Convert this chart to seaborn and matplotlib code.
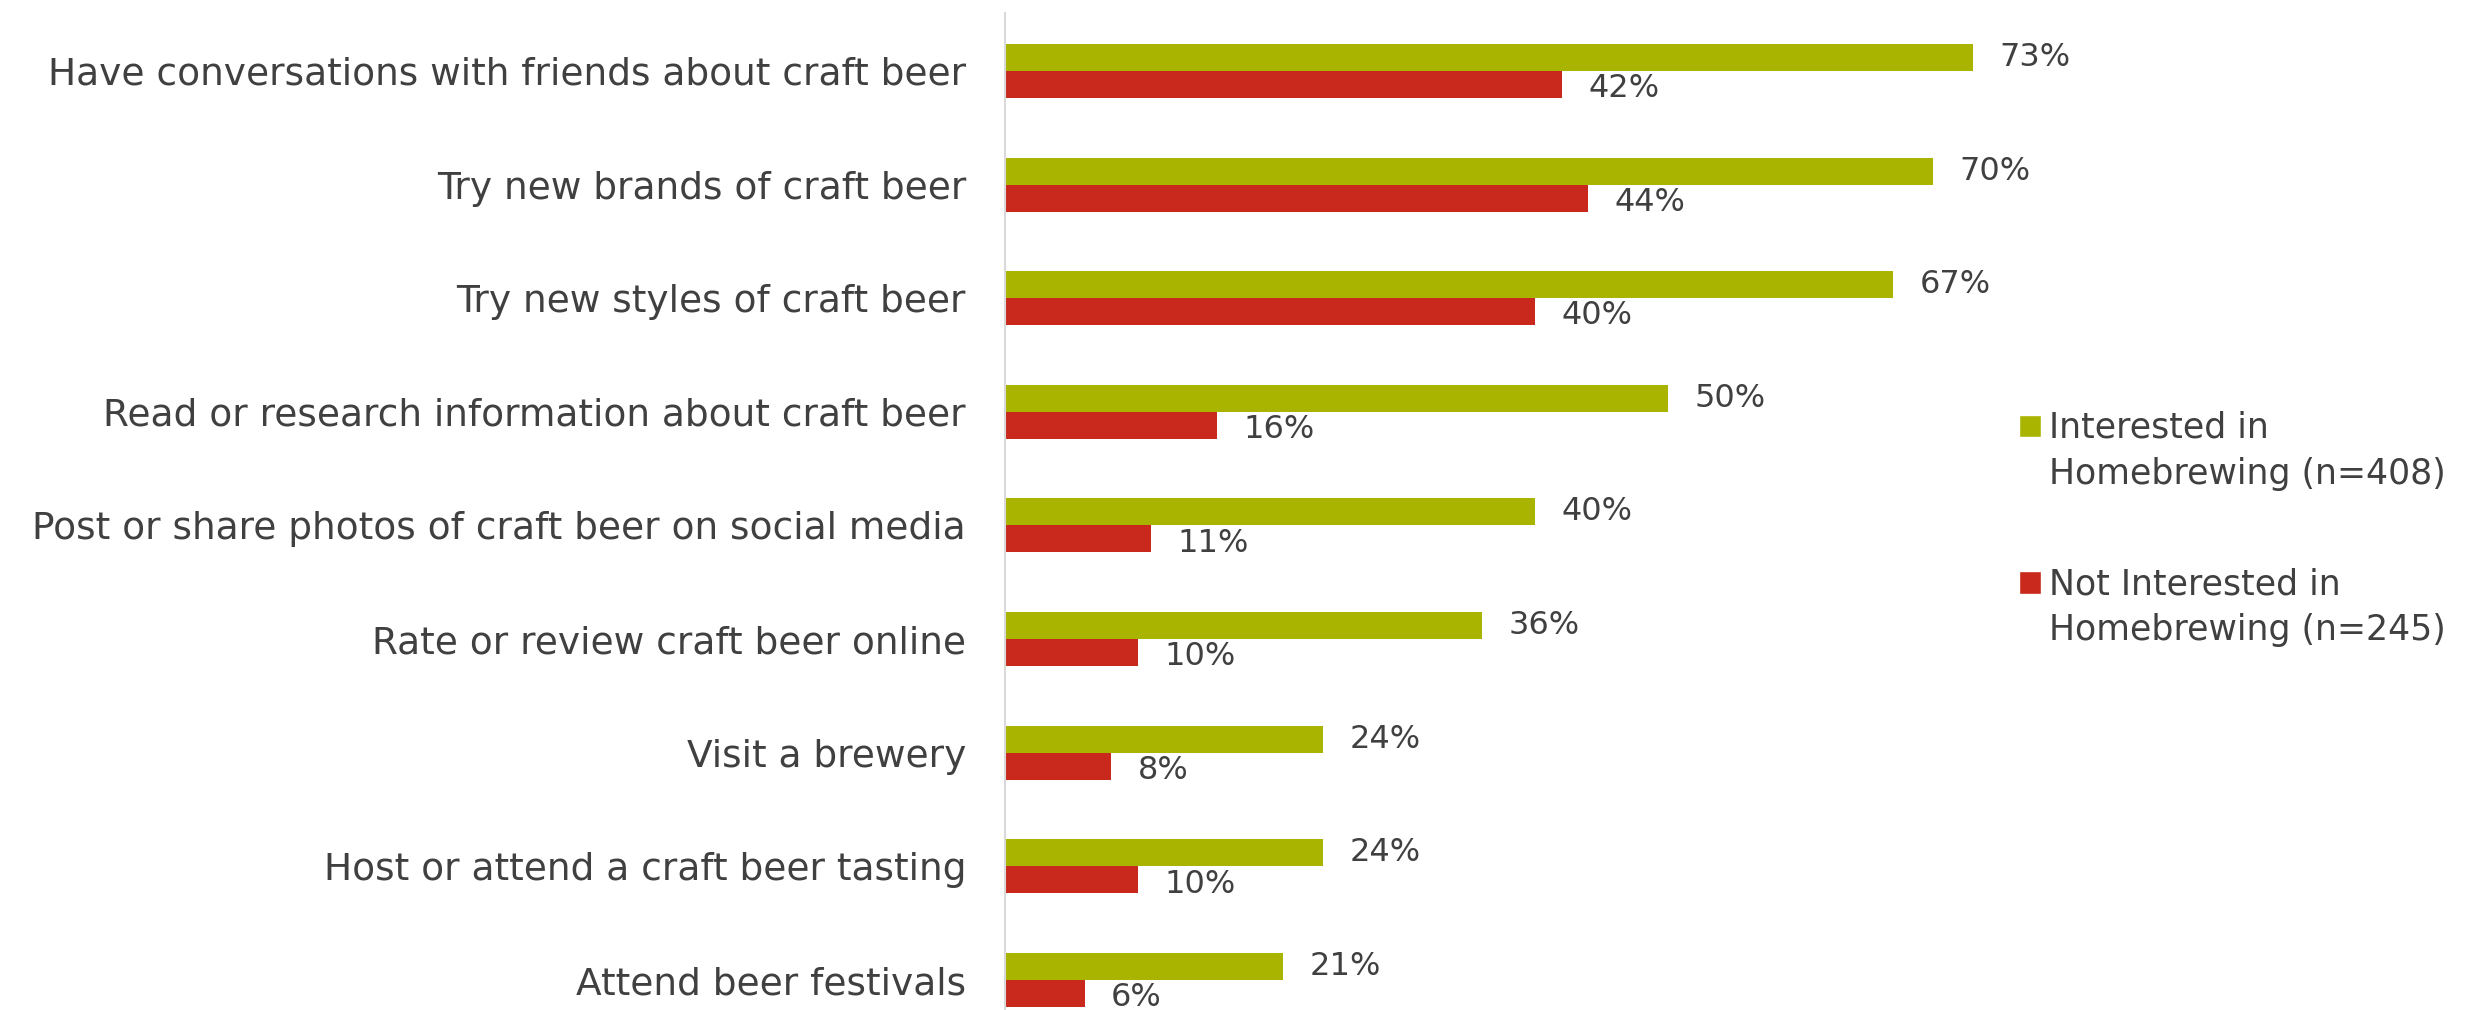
import matplotlib
matplotlib.use("Agg")
import matplotlib.pyplot as plt
import seaborn as sns
import pandas as pd
from matplotlib.patches import Patch, Rectangle
from matplotlib.legend_handler import HandlerPatch

categories = [
    "Have conversations with friends about craft beer",
    "Try new brands of craft beer",
    "Try new styles of craft beer",
    "Read or research information about craft beer",
    "Post or share photos of craft beer on social media",
    "Rate or review craft beer online",
    "Visit a brewery",
    "Host or attend a craft beer tasting",
    "Attend beer festivals",
]
interested = [73, 70, 67, 50, 40, 36, 24, 24, 21]
not_interested = [42, 44, 40, 16, 11, 10, 8, 10, 6]
series_names = ["Interested in\nHomebrewing (n=408)", "Not Interested in\nHomebrewing (n=245)"]
colors = ["#A9B400", "#C9291C"]

rows = []
for c, a, b in zip(categories, interested, not_interested):
    rows.append({"cat": c, "val": a, "series": series_names[0]})
    rows.append({"cat": c, "val": b, "series": series_names[1]})
df = pd.DataFrame(rows)

sns.set_style("white")
plt.rcParams["font.family"] = ["DejaVu Sans"]
text_color = "#404040"

fig = plt.figure(figsize=(24.74, 10.10), dpi=100)
ax = fig.add_axes([1005 / 2474, 0.0, (80 * 13.26) / 2474, 1 - 13 / 1010])

sns.barplot(data=df, y="cat", x="val", hue="series", order=categories,
            hue_order=series_names, palette=colors, width=0.475,
            orient="h", ax=ax, legend=False, saturation=1, linewidth=0)

for i, cont in enumerate(ax.containers):
    anns = ax.bar_label(cont, labels=[f"{int(v)}%" for v in cont.datavalues],
                        padding=19, fontsize=23, color=text_color)
    if i == 1:
        for a in anns:
            a.xyann = (a.xyann[0], a.xyann[1] - 3)

ax.set_xlim(0, 80)
ax.set_ylim(8.264, -0.51)
ax.set_xlabel("")
ax.set_ylabel("")
ax.set_xticks([])
ax.tick_params(axis="y", length=0, pad=28, labelsize=27, labelcolor=text_color)
for s in ["top", "right", "bottom"]:
    ax.spines[s].set_visible(False)
ax.spines["left"].set_color("#d9d9d9")
ax.spines["left"].set_linewidth(1.5)


def top_square(legend, orig_handle, xdescent, ydescent, width, height, fontsize):
    return Rectangle((-xdescent, -ydescent + 0.75 * fontsize), width, height)


handles = [Patch(facecolor=colors[0]), Patch(facecolor=colors[1])]
leg = fig.legend(handles, series_names, loc="center left",
                 bbox_to_anchor=(1988 / 2474, 1 - 529 / 1010), frameon=False,
                 fontsize=25, labelcolor=text_color, handlelength=0.62, handleheight=0.62,
                 handletextpad=0.25, labelspacing=2.2, alignment="left",
                 handler_map={Patch: HandlerPatch(patch_func=top_square)})
for t in leg.get_texts():
    t.set_linespacing(1.45)

fig.savefig("out.png", dpi=100)
